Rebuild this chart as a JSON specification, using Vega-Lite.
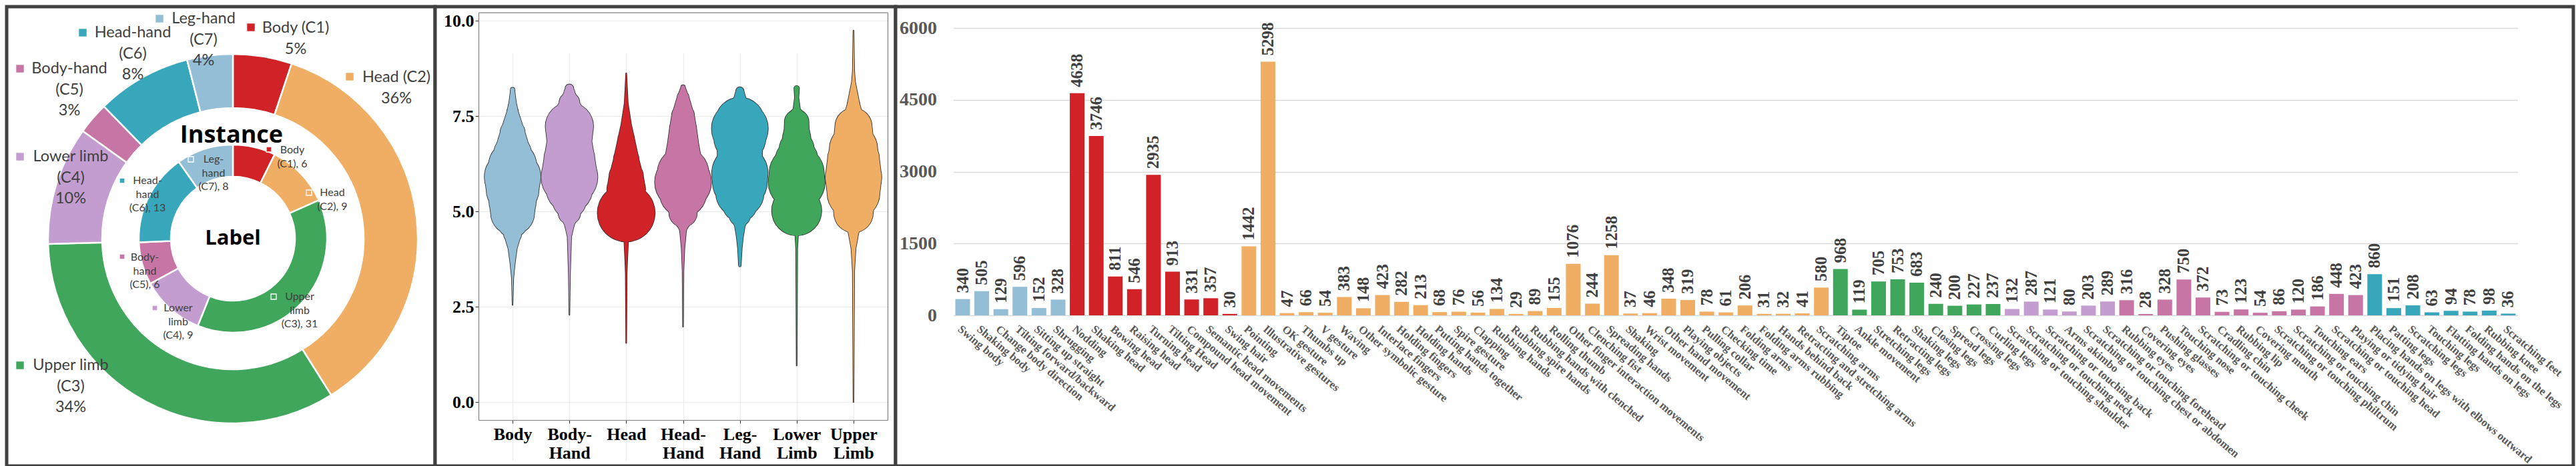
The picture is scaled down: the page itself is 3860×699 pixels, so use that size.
{
  "$schema": "https://vega.github.io/schema/vega-lite/v6.json",
  "background": "white",
  "padding": {"left": 4, "top": 4, "right": 0, "bottom": 0},
  "spacing": 0,
  "bounds": "flush",
  "config": {"view": {"stroke": "#404040", "strokeWidth": 5, "fill": "white"}},
  "resolve": {"scale": {"color": "independent"}},
  "datasets": {
    "donut": [
      {"cat": "Body", "code": "C1", "instances": 2050, "labels": 6, "outer": "Body (C1)\n5%", "inner": "Body\n(C1), 6"},
      {"cat": "Head", "code": "C2", "instances": 14307, "labels": 9, "outer": "Head (C2)\n36%", "inner": "Head\n(C2), 9"},
      {"cat": "Upper limb", "code": "C3", "instances": 13320, "labels": 31, "outer": "Upper limb\n(C3)\n34%", "inner": "Upper\nlimb\n(C3), 31"},
      {"cat": "Lower limb", "code": "C4", "instances": 4132, "labels": 9, "outer": "Lower limb\n(C4)\n10%", "inner": "Lower\nlimb\n(C4), 9"},
      {"cat": "Body-hand", "code": "C5", "instances": 1112, "labels": 6, "outer": "Body-hand\n(C5)\n3%", "inner": "Body-\nhand\n(C5), 6"},
      {"cat": "Head-hand", "code": "C6", "instances": 3307, "labels": 13, "outer": "Head-hand\n(C6)\n8%", "inner": "Head-\nhand\n(C6), 13"},
      {"cat": "Leg-hand", "code": "C7", "instances": 1588, "labels": 8, "outer": "Leg-hand\n(C7)\n4%", "inner": "Leg-\nhand\n(C7), 8"}
    ],
    "violin": [
      {"cat": "Body", "v": 2.55, "w": 0.2}, {"cat": "Body", "v": 3.23, "w": 1.1}, {"cat": "Body", "v": 3.63, "w": 3.4}, {"cat": "Body", "v": 4.02, "w": 6.4}, {"cat": "Body", "v": 4.41, "w": 13.1}, {"cat": "Body", "v": 4.72, "w": 22.7}, {"cat": "Body", "v": 4.96, "w": 32.6}, {"cat": "Body", "v": 5.27, "w": 35.1}, {"cat": "Body", "v": 5.58, "w": 39.3}, {"cat": "Body", "v": 5.9, "w": 42.0}, {"cat": "Body", "v": 6.21, "w": 35.8}, {"cat": "Body", "v": 6.52, "w": 28.0}, {"cat": "Body", "v": 7.07, "w": 18.4}, {"cat": "Body", "v": 7.62, "w": 8.3}, {"cat": "Body", "v": 7.85, "w": 5.3}, {"cat": "Body", "v": 8.1, "w": 3.4}, {"cat": "Body", "v": 8.2, "w": 2.8},
      {"cat": "Body-Hand", "v": 2.29, "w": 0.2}, {"cat": "Body-Hand", "v": 3.39, "w": 1.1}, {"cat": "Body-Hand", "v": 4.33, "w": 2.8}, {"cat": "Body-Hand", "v": 4.64, "w": 6.9}, {"cat": "Body-Hand", "v": 4.96, "w": 16.5}, {"cat": "Body-Hand", "v": 5.27, "w": 24.8}, {"cat": "Body-Hand", "v": 5.58, "w": 34.4}, {"cat": "Body-Hand", "v": 5.9, "w": 42.2}, {"cat": "Body-Hand", "v": 6.37, "w": 37.9}, {"cat": "Body-Hand", "v": 6.84, "w": 33.3}, {"cat": "Body-Hand", "v": 7.23, "w": 35.8}, {"cat": "Body-Hand", "v": 7.85, "w": 15.2}, {"cat": "Body-Hand", "v": 8.12, "w": 8.0}, {"cat": "Body-Hand", "v": 8.23, "w": 6.0},
      {"cat": "Head", "v": 1.55, "w": 0.2}, {"cat": "Head", "v": 3.39, "w": 0.9}, {"cat": "Head", "v": 3.78, "w": 1.8}, {"cat": "Head", "v": 4.49, "w": 3.7}, {"cat": "Head", "v": 4.72, "w": 9.2}, {"cat": "Head", "v": 4.84, "w": 25.0}, {"cat": "Head", "v": 4.96, "w": 43.0}, {"cat": "Head", "v": 5.08, "w": 38.0}, {"cat": "Head", "v": 5.2, "w": 30.0}, {"cat": "Head", "v": 5.35, "w": 27.5}, {"cat": "Head", "v": 5.58, "w": 28.7}, {"cat": "Head", "v": 5.9, "w": 25.7}, {"cat": "Head", "v": 6.37, "w": 18.8}, {"cat": "Head", "v": 6.91, "w": 12.2}, {"cat": "Head", "v": 7.3, "w": 7.3}, {"cat": "Head", "v": 7.85, "w": 2.5}, {"cat": "Head", "v": 8.62, "w": 0.3},
      {"cat": "Head-Hand", "v": 1.98, "w": 0.2}, {"cat": "Head-Hand", "v": 3.44, "w": 0.8}, {"cat": "Head-Hand", "v": 4.03, "w": 2.2}, {"cat": "Head-Hand", "v": 4.49, "w": 4.7}, {"cat": "Head-Hand", "v": 4.73, "w": 10.8}, {"cat": "Head-Hand", "v": 4.96, "w": 20.8}, {"cat": "Head-Hand", "v": 5.19, "w": 24.2}, {"cat": "Head-Hand", "v": 5.48, "w": 35.0}, {"cat": "Head-Hand", "v": 5.77, "w": 42.2}, {"cat": "Head-Hand", "v": 6.01, "w": 38.3}, {"cat": "Head-Hand", "v": 6.36, "w": 27.5}, {"cat": "Head-Hand", "v": 6.82, "w": 22.7}, {"cat": "Head-Hand", "v": 7.17, "w": 20.0}, {"cat": "Head-Hand", "v": 7.52, "w": 16.7}, {"cat": "Head-Hand", "v": 7.99, "w": 8.8}, {"cat": "Head-Hand", "v": 8.26, "w": 3.0},
      {"cat": "Leg-Hand", "v": 3.58, "w": 1.5}, {"cat": "Leg-Hand", "v": 4.03, "w": 3.0}, {"cat": "Leg-Hand", "v": 4.32, "w": 4.8}, {"cat": "Leg-Hand", "v": 4.61, "w": 7.5}, {"cat": "Leg-Hand", "v": 4.9, "w": 15.8}, {"cat": "Leg-Hand", "v": 5.19, "w": 25.8}, {"cat": "Leg-Hand", "v": 5.48, "w": 35.8}, {"cat": "Leg-Hand", "v": 5.77, "w": 40.8}, {"cat": "Leg-Hand", "v": 6.01, "w": 41.8}, {"cat": "Leg-Hand", "v": 6.36, "w": 33.3}, {"cat": "Leg-Hand", "v": 6.71, "w": 33.7}, {"cat": "Leg-Hand", "v": 6.94, "w": 38.8}, {"cat": "Leg-Hand", "v": 7.17, "w": 42.2}, {"cat": "Leg-Hand", "v": 7.35, "w": 36.7}, {"cat": "Leg-Hand", "v": 7.58, "w": 20.0}, {"cat": "Leg-Hand", "v": 7.81, "w": 12.0}, {"cat": "Leg-Hand", "v": 8.05, "w": 7.5}, {"cat": "Leg-Hand", "v": 8.16, "w": 5.8},
      {"cat": "Lower Limb", "v": 0.96, "w": 0.2}, {"cat": "Lower Limb", "v": 4.03, "w": 1.0}, {"cat": "Lower Limb", "v": 4.49, "w": 2.5}, {"cat": "Lower Limb", "v": 4.73, "w": 10.8}, {"cat": "Lower Limb", "v": 4.9, "w": 27.5}, {"cat": "Lower Limb", "v": 5.02, "w": 37.2}, {"cat": "Lower Limb", "v": 5.19, "w": 32.5}, {"cat": "Lower Limb", "v": 5.42, "w": 32.8}, {"cat": "Lower Limb", "v": 5.77, "w": 42.2}, {"cat": "Lower Limb", "v": 6.01, "w": 40.8}, {"cat": "Lower Limb", "v": 6.36, "w": 31.7}, {"cat": "Lower Limb", "v": 6.65, "w": 25.8}, {"cat": "Lower Limb", "v": 6.94, "w": 20.8}, {"cat": "Lower Limb", "v": 7.17, "w": 18.3}, {"cat": "Lower Limb", "v": 7.35, "w": 18.0}, {"cat": "Lower Limb", "v": 7.52, "w": 10.5}, {"cat": "Lower Limb", "v": 7.7, "w": 5.0}, {"cat": "Lower Limb", "v": 7.99, "w": 2.8}, {"cat": "Lower Limb", "v": 8.23, "w": 3.7},
      {"cat": "Upper Limb", "v": 0.0, "w": 0.2}, {"cat": "Upper Limb", "v": 3.44, "w": 1.2}, {"cat": "Upper Limb", "v": 4.03, "w": 3.3}, {"cat": "Upper Limb", "v": 4.43, "w": 7.5}, {"cat": "Upper Limb", "v": 4.73, "w": 15.8}, {"cat": "Upper Limb", "v": 4.96, "w": 29.2}, {"cat": "Upper Limb", "v": 5.19, "w": 30.8}, {"cat": "Upper Limb", "v": 5.48, "w": 39.2}, {"cat": "Upper Limb", "v": 5.89, "w": 42.0}, {"cat": "Upper Limb", "v": 6.36, "w": 38.7}, {"cat": "Upper Limb", "v": 6.65, "w": 35.8}, {"cat": "Upper Limb", "v": 6.94, "w": 29.2}, {"cat": "Upper Limb", "v": 7.23, "w": 27.5}, {"cat": "Upper Limb", "v": 7.52, "w": 14.2}, {"cat": "Upper Limb", "v": 7.81, "w": 9.2}, {"cat": "Upper Limb", "v": 8.11, "w": 5.8}, {"cat": "Upper Limb", "v": 8.4, "w": 2.5}, {"cat": "Upper Limb", "v": 8.69, "w": 1.2}, {"cat": "Upper Limb", "v": 9.74, "w": 0.3}
    ],
    "bars": [
      {"name": "Swing body", "group": "Body", "n": 340},
      {"name": "Shaking body", "group": "Body", "n": 505},
      {"name": "Change body direction", "group": "Body", "n": 129},
      {"name": "Tilting forward/backward", "group": "Body", "n": 596},
      {"name": "Sitting up straight", "group": "Body", "n": 152},
      {"name": "Shrugging", "group": "Body", "n": 328},
      {"name": "Nodding", "group": "Head", "n": 4638},
      {"name": "Shaking head", "group": "Head", "n": 3746},
      {"name": "Bowing head", "group": "Head", "n": 811},
      {"name": "Raising head", "group": "Head", "n": 546},
      {"name": "Turning head", "group": "Head", "n": 2935},
      {"name": "Tilting Head", "group": "Head", "n": 913},
      {"name": "Compound head movement", "group": "Head", "n": 331},
      {"name": "Semantic head movements", "group": "Head", "n": 357},
      {"name": "Swing hair", "group": "Head", "n": 30},
      {"name": "Pointing", "group": "Upper limb", "n": 1442},
      {"name": "Illustrative gestures", "group": "Upper limb", "n": 5298},
      {"name": "OK gesture", "group": "Upper limb", "n": 47},
      {"name": "Thumbs up", "group": "Upper limb", "n": 66},
      {"name": "V gesture", "group": "Upper limb", "n": 54},
      {"name": "Waving", "group": "Upper limb", "n": 383},
      {"name": "Other symbolic gesture", "group": "Upper limb", "n": 148},
      {"name": "Interlace fingers", "group": "Upper limb", "n": 423},
      {"name": "Holding fingers", "group": "Upper limb", "n": 282},
      {"name": "Holding hands", "group": "Upper limb", "n": 213},
      {"name": "Putting hands together", "group": "Upper limb", "n": 68},
      {"name": "Spire gesture", "group": "Upper limb", "n": 76},
      {"name": "Clapping", "group": "Upper limb", "n": 56},
      {"name": "Rubbing hands", "group": "Upper limb", "n": 134},
      {"name": "Rubbing spire hands", "group": "Upper limb", "n": 29},
      {"name": "Rubbing hands with clenched", "group": "Upper limb", "n": 89},
      {"name": "Rolling thumb", "group": "Upper limb", "n": 155},
      {"name": "Other finger interaction movements", "group": "Upper limb", "n": 1076},
      {"name": "Clenching fist", "group": "Upper limb", "n": 244},
      {"name": "Spreading hands", "group": "Upper limb", "n": 1258},
      {"name": "Shaking", "group": "Upper limb", "n": 37},
      {"name": "Wrist movement", "group": "Upper limb", "n": 46},
      {"name": "Other hand movement", "group": "Upper limb", "n": 348},
      {"name": "Playing objects", "group": "Upper limb", "n": 319},
      {"name": "Pulling collar", "group": "Upper limb", "n": 78},
      {"name": "Checking time", "group": "Upper limb", "n": 61},
      {"name": "Folding arms", "group": "Upper limb", "n": 206},
      {"name": "Folding arms rubbing", "group": "Upper limb", "n": 31},
      {"name": "Hands behind back", "group": "Upper limb", "n": 32},
      {"name": "Retracting and stretching arms", "group": "Upper limb", "n": 41},
      {"name": "Scratching arms", "group": "Upper limb", "n": 580},
      {"name": "Tiptoe", "group": "Lower limb", "n": 968},
      {"name": "Ankle movement", "group": "Lower limb", "n": 119},
      {"name": "Stretching legs", "group": "Lower limb", "n": 705},
      {"name": "Retracting legs", "group": "Lower limb", "n": 753},
      {"name": "Shaking legs", "group": "Lower limb", "n": 683},
      {"name": "Closing legs", "group": "Lower limb", "n": 240},
      {"name": "Spread legs", "group": "Lower limb", "n": 200},
      {"name": "Crossing legs", "group": "Lower limb", "n": 227},
      {"name": "Curling legs", "group": "Lower limb", "n": 237},
      {"name": "Scratching or touching shoulder", "group": "Body-hand", "n": 132},
      {"name": "Scratching or touching neck", "group": "Body-hand", "n": 287},
      {"name": "Scratching or touching back", "group": "Body-hand", "n": 121},
      {"name": "Arms akimbo", "group": "Body-hand", "n": 80},
      {"name": "Scratching or touching chest or abdomen", "group": "Body-hand", "n": 203},
      {"name": "Scratching or touching forehead", "group": "Body-hand", "n": 289},
      {"name": "Rubbing eyes", "group": "Head-hand", "n": 316},
      {"name": "Covering eyes", "group": "Head-hand", "n": 28},
      {"name": "Pushing glasses", "group": "Head-hand", "n": 328},
      {"name": "Touching nose", "group": "Head-hand", "n": 750},
      {"name": "Scratching or touching cheek", "group": "Head-hand", "n": 372},
      {"name": "Cradling chin", "group": "Head-hand", "n": 73},
      {"name": "Rubbing lip", "group": "Head-hand", "n": 123},
      {"name": "Covering mouth", "group": "Head-hand", "n": 54},
      {"name": "Scratching or touching philtrum", "group": "Head-hand", "n": 86},
      {"name": "Scratching or touching chin", "group": "Head-hand", "n": 120},
      {"name": "Touching ears", "group": "Head-hand", "n": 186},
      {"name": "Scratching or touching head", "group": "Head-hand", "n": 448},
      {"name": "Playing or tidying hair", "group": "Head-hand", "n": 423},
      {"name": "Placing hands on legs with elbows outward", "group": "Leg-hand", "n": 860},
      {"name": "Patting legs", "group": "Leg-hand", "n": 151},
      {"name": "Scratching legs", "group": "Leg-hand", "n": 208},
      {"name": "Touching legs", "group": "Leg-hand", "n": 63},
      {"name": "Flatting hands on legs", "group": "Leg-hand", "n": 94},
      {"name": "Folding hands on the legs", "group": "Leg-hand", "n": 78},
      {"name": "Rubbing knee", "group": "Leg-hand", "n": 98},
      {"name": "Scratching feet", "group": "Leg-hand", "n": 36}
    ]
  },
  "hconcat": [
    {
      "width": 642,
      "height": 689,
      "view": {"stroke": "#404040", "strokeWidth": 5, "fill": "white"},
      "data": {"name": "donut"},
      "layer": [
        {"mark": {"type": "point", "opacity": 0},
         "encoding": {"x": {"datum": 0, "type": "quantitative", "axis": null}, "y": {"datum": 0, "type": "quantitative", "axis": null}}},
        {"mark": {"type": "arc", "x": 339, "y": 348, "radius": 277, "radius2": 196, "stroke": "white", "strokeWidth": 2.5},
         "encoding": {
           "theta": {"field": "instances", "type": "quantitative", "stack": true},
           "order": {"field": "code", "type": "ordinal"},
           "color": {"field": "cat", "type": "nominal", "scale": {"domain": ["Body", "Head", "Upper limb", "Lower limb", "Body-hand", "Head-hand", "Leg-hand"], "range": ["#D02227", "#EFAE63", "#3FA65C", "#C39DD0", "#C675A5", "#38A6BB", "#93BED5"]}, "legend": null}
         }},
        {"mark": {"type": "arc", "x": 339, "y": 348, "radius": 141, "radius2": 93, "stroke": "white", "strokeWidth": 2.5},
         "encoding": {
           "theta": {"field": "labels", "type": "quantitative", "stack": true},
           "order": {"field": "code", "type": "ordinal"},
           "color": {"field": "cat", "type": "nominal", "legend": null}
         }},
        {"transform": [{"filter": "datum.code == 'C1'"}], "mark": {"type": "text", "x": 433, "y": 32, "align": "center", "baseline": "middle", "lineBreak": "\n", "font": "Lato", "fontSize": 23.5, "lineHeight": 31.5, "fill": "#404040"}, "encoding": {"text": {"field": "outer", "type": "nominal"}}},
        {"transform": [{"filter": "datum.code == 'C2'"}], "mark": {"type": "text", "x": 584, "y": 106, "align": "center", "baseline": "middle", "lineBreak": "\n", "font": "Lato", "fontSize": 23.5, "lineHeight": 31.5, "fill": "#404040"}, "encoding": {"text": {"field": "outer", "type": "nominal"}}},
        {"transform": [{"filter": "datum.code == 'C3'"}], "mark": {"type": "text", "x": 96, "y": 538, "align": "center", "baseline": "middle", "lineBreak": "\n", "font": "Lato", "fontSize": 23.5, "lineHeight": 31.5, "fill": "#404040"}, "encoding": {"text": {"field": "outer", "type": "nominal"}}},
        {"transform": [{"filter": "datum.code == 'C4'"}], "mark": {"type": "text", "x": 96, "y": 225, "align": "center", "baseline": "middle", "lineBreak": "\n", "font": "Lato", "fontSize": 23.5, "lineHeight": 31.5, "fill": "#404040"}, "encoding": {"text": {"field": "outer", "type": "nominal"}}},
        {"transform": [{"filter": "datum.code == 'C5'"}], "mark": {"type": "text", "x": 94, "y": 93, "align": "center", "baseline": "middle", "lineBreak": "\n", "font": "Lato", "fontSize": 23.5, "lineHeight": 31.5, "fill": "#404040"}, "encoding": {"text": {"field": "outer", "type": "nominal"}}},
        {"transform": [{"filter": "datum.code == 'C6'"}], "mark": {"type": "text", "x": 189, "y": 39, "align": "center", "baseline": "middle", "lineBreak": "\n", "font": "Lato", "fontSize": 23.5, "lineHeight": 31.5, "fill": "#404040"}, "encoding": {"text": {"field": "outer", "type": "nominal"}}},
        {"transform": [{"filter": "datum.code == 'C7'"}], "mark": {"type": "text", "x": 295, "y": 18, "align": "center", "baseline": "middle", "lineBreak": "\n", "font": "Lato", "fontSize": 23.5, "lineHeight": 31.5, "fill": "#404040"}, "encoding": {"text": {"field": "outer", "type": "nominal"}}},
        {"transform": [{"filter": "datum.code == 'C1'"}], "mark": {"type": "square", "x": 366, "y": 31, "size": 130, "filled": true, "opacity": 1}, "encoding": {"color": {"field": "cat", "type": "nominal", "legend": null}}},
        {"transform": [{"filter": "datum.code == 'C2'"}], "mark": {"type": "square", "x": 514, "y": 105, "size": 130, "filled": true, "opacity": 1}, "encoding": {"color": {"field": "cat", "type": "nominal", "legend": null}}},
        {"transform": [{"filter": "datum.code == 'C3'"}], "mark": {"type": "square", "x": 20, "y": 538, "size": 130, "filled": true, "opacity": 1}, "encoding": {"color": {"field": "cat", "type": "nominal", "legend": null}}},
        {"transform": [{"filter": "datum.code == 'C4'"}], "mark": {"type": "square", "x": 20, "y": 225, "size": 130, "filled": true, "opacity": 1}, "encoding": {"color": {"field": "cat", "type": "nominal", "legend": null}}},
        {"transform": [{"filter": "datum.code == 'C5'"}], "mark": {"type": "square", "x": 20, "y": 93, "size": 130, "filled": true, "opacity": 1}, "encoding": {"color": {"field": "cat", "type": "nominal", "legend": null}}},
        {"transform": [{"filter": "datum.code == 'C6'"}], "mark": {"type": "square", "x": 114, "y": 39, "size": 130, "filled": true, "opacity": 1}, "encoding": {"color": {"field": "cat", "type": "nominal", "legend": null}}},
        {"transform": [{"filter": "datum.code == 'C7'"}], "mark": {"type": "square", "x": 229, "y": 18, "size": 130, "filled": true, "opacity": 1}, "encoding": {"color": {"field": "cat", "type": "nominal", "legend": null}}},
        {"transform": [{"filter": "datum.code == 'C1'"}], "mark": {"type": "text", "x": 428, "y": 215, "align": "center", "baseline": "middle", "lineBreak": "\n", "font": "Lato", "fontSize": 16, "lineHeight": 20.5, "fill": "#404040"}, "encoding": {"text": {"field": "inner", "type": "nominal"}}},
        {"transform": [{"filter": "datum.code == 'C2'"}], "mark": {"type": "text", "x": 488, "y": 279, "align": "center", "baseline": "middle", "lineBreak": "\n", "font": "Lato", "fontSize": 16, "lineHeight": 20.5, "fill": "#404040"}, "encoding": {"text": {"field": "inner", "type": "nominal"}}},
        {"transform": [{"filter": "datum.code == 'C3'"}], "mark": {"type": "text", "x": 439, "y": 435, "align": "center", "baseline": "middle", "lineBreak": "\n", "font": "Lato", "fontSize": 16, "lineHeight": 20.5, "fill": "#404040"}, "encoding": {"text": {"field": "inner", "type": "nominal"}}},
        {"transform": [{"filter": "datum.code == 'C4'"}], "mark": {"type": "text", "x": 257, "y": 452, "align": "center", "baseline": "middle", "lineBreak": "\n", "font": "Lato", "fontSize": 16, "lineHeight": 20.5, "fill": "#404040"}, "encoding": {"text": {"field": "inner", "type": "nominal"}}},
        {"transform": [{"filter": "datum.code == 'C5'"}], "mark": {"type": "text", "x": 207, "y": 376, "align": "center", "baseline": "middle", "lineBreak": "\n", "font": "Lato", "fontSize": 16, "lineHeight": 20.5, "fill": "#404040"}, "encoding": {"text": {"field": "inner", "type": "nominal"}}},
        {"transform": [{"filter": "datum.code == 'C6'"}], "mark": {"type": "text", "x": 211, "y": 261, "align": "center", "baseline": "middle", "lineBreak": "\n", "font": "Lato", "fontSize": 16, "lineHeight": 20.5, "fill": "#404040"}, "encoding": {"text": {"field": "inner", "type": "nominal"}}},
        {"transform": [{"filter": "datum.code == 'C7'"}], "mark": {"type": "text", "x": 310, "y": 229, "align": "center", "baseline": "middle", "lineBreak": "\n", "font": "Lato", "fontSize": 16, "lineHeight": 20.5, "fill": "#404040"}, "encoding": {"text": {"field": "inner", "type": "nominal"}}},
        {"transform": [{"filter": "datum.code == 'C1'"}], "mark": {"type": "square", "x": 393, "y": 214, "size": 64, "filled": true, "opacity": 1, "stroke": "white", "strokeWidth": 1.3}, "encoding": {"color": {"field": "cat", "type": "nominal", "legend": null}}},
        {"transform": [{"filter": "datum.code == 'C2'"}], "mark": {"type": "square", "x": 453, "y": 279, "size": 64, "filled": true, "opacity": 1, "stroke": "white", "strokeWidth": 1.3}, "encoding": {"color": {"field": "cat", "type": "nominal", "legend": null}}},
        {"transform": [{"filter": "datum.code == 'C3'"}], "mark": {"type": "square", "x": 400, "y": 435, "size": 64, "filled": true, "opacity": 1, "stroke": "white", "strokeWidth": 1.3}, "encoding": {"color": {"field": "cat", "type": "nominal", "legend": null}}},
        {"transform": [{"filter": "datum.code == 'C4'"}], "mark": {"type": "square", "x": 222, "y": 452, "size": 64, "filled": true, "opacity": 1, "stroke": "white", "strokeWidth": 1.3}, "encoding": {"color": {"field": "cat", "type": "nominal", "legend": null}}},
        {"transform": [{"filter": "datum.code == 'C5'"}], "mark": {"type": "square", "x": 173, "y": 375, "size": 64, "filled": true, "opacity": 1, "stroke": "white", "strokeWidth": 1.3}, "encoding": {"color": {"field": "cat", "type": "nominal", "legend": null}}},
        {"transform": [{"filter": "datum.code == 'C6'"}], "mark": {"type": "square", "x": 173, "y": 261, "size": 64, "filled": true, "opacity": 1, "stroke": "white", "strokeWidth": 1.3}, "encoding": {"color": {"field": "cat", "type": "nominal", "legend": null}}},
        {"transform": [{"filter": "datum.code == 'C7'"}], "mark": {"type": "square", "x": 276, "y": 229, "size": 64, "filled": true, "opacity": 1, "stroke": "white", "strokeWidth": 1.3}, "encoding": {"color": {"field": "cat", "type": "nominal", "legend": null}}},
        {"transform": [{"filter": "datum.code == 'C1'"}], "mark": {"type": "text", "x": 337, "y": 193, "align": "center", "baseline": "middle", "font": "Open Sans", "fontWeight": "bold", "fontSize": 36, "fill": "#000000"}, "encoding": {"text": {"value": "Instance"}}},
        {"transform": [{"filter": "datum.code == 'C1'"}], "mark": {"type": "text", "x": 339, "y": 348, "align": "center", "baseline": "middle", "font": "Open Sans", "fontWeight": "bold", "fontSize": 31, "fill": "#000000"}, "encoding": {"text": {"value": "Label"}}}
      ],
      "resolve": {"scale": {"theta": "independent"}}
    },
    {
      "width": 690,
      "height": 689,
      "data": {"name": "violin"},
      "layer": [
        {
          "mark": {"type": "trail", "color": "#333333", "opacity": 1, "clip": true},
          "encoding": {
            "y": {"field": "v", "type": "quantitative",
                  "scale": {"domain": [-0.47, 10.22], "range": [620, 8.7], "nice": false, "zero": false},
                  "axis": {"orient": "left", "offset": -65, "title": null, "values": [0, 2.5, 5, 7.5, 10], "format": ".1f",
                           "labelFont": "Liberation Serif", "labelFontWeight": "bold", "labelFontSize": 26, "labelColor": "#000000", "labelPadding": 2,
                           "tickSize": 5, "tickColor": "#333333", "tickWidth": 1, "domainColor": "#7f7f7f", "domainWidth": 1.2,
                           "grid": true, "gridColor": "#ebebeb", "gridWidth": 1}},
            "x": {"field": "cat", "type": "nominal", "sort": ["Body", "Body-Hand", "Head", "Head-Hand", "Leg-Hand", "Lower Limb", "Upper Limb"],
                  "scale": {"type": "point", "padding": 0.6, "range": [65, 678]},
                  "axis": {"orient": "bottom", "offset": -69, "title": null, "labelAngle": 0, "labelBaseline": "top",
                           "labelExpr": "indexof(datum.label, '-') > 0 ? [slice(datum.label, 0, indexof(datum.label, '-') + 1), slice(datum.label, indexof(datum.label, '-') + 1)] : split(datum.label, ' ')",
                           "labelFont": "Liberation Serif", "labelFontWeight": "bold", "labelFontSize": 26, "labelColor": "#000000", "labelPadding": 3, "labelLineHeight": 28,
                           "tickSize": 5, "tickColor": "#333333", "domainColor": "#7f7f7f", "domainWidth": 1.2,
                           "grid": true, "gridColor": "#ebebeb", "gridWidth": 1}},
            "size": {"field": "w", "type": "quantitative", "scale": {"domain": [0, 43], "range": [1.8, 87.8], "zero": false}, "legend": null},
            "detail": {"field": "cat", "type": "nominal"},
            "order": {"field": "v", "type": "quantitative"}
          }
        },
        {
          "mark": {"type": "trail", "opacity": 1, "clip": true},
          "encoding": {
            "y": {"field": "v", "type": "quantitative", "axis": {"orient": "right", "offset": -12, "title": null, "labels": false, "ticks": false, "grid": false, "domainColor": "#7f7f7f", "domainWidth": 1.2}},
            "x": {"field": "cat", "type": "nominal", "sort": ["Body", "Body-Hand", "Head", "Head-Hand", "Leg-Hand", "Lower Limb", "Upper Limb"], "axis": {"orient": "top", "offset": -8.7, "title": null, "labels": false, "ticks": false, "grid": false, "domainColor": "#7f7f7f", "domainWidth": 1.2}},
            "size": {"field": "w", "type": "quantitative", "scale": {"domain": [0, 43], "range": [0, 86], "zero": false}, "legend": null},
            "color": {"field": "cat", "type": "nominal",
                      "scale": {"domain": ["Body", "Body-Hand", "Head", "Head-Hand", "Leg-Hand", "Lower Limb", "Upper Limb"],
                                "range": ["#93BED5", "#C39DD0", "#D02227", "#C675A5", "#38A6BB", "#3FA65C", "#EFAE63"]},
                      "legend": null},
            "order": {"field": "v", "type": "quantitative"}
          }
        }
      ],
      "resolve": {"scale": {"size": "independent"}, "axis": {"x": "independent", "y": "independent"}}
    },
    {
      "width": 2514,
      "height": 689,
      "data": {"name": "bars"},
      "encoding": {
        "x": {"field": "name", "type": "nominal", "sort": null,
              "scale": {"range": [86.5, 2430.5], "paddingInner": 0.23, "paddingOuter": 0.105},
              "axis": {"orient": "bottom", "offset": -226, "title": null, "labelAngle": 40, "labelAlign": "left", "labelBaseline": "top",
                       "labelFont": "Liberation Serif", "labelFontWeight": "bold", "labelFontSize": 17, "labelColor": "#595959",
                       "labelPadding": 12, "labelOverlap": false, "labelLimit": 0, "ticks": false, "domain": false, "grid": false}},
        "y": {"field": "n", "type": "quantitative",
              "scale": {"domain": [0, 6000], "range": [463, 32], "nice": false},
              "axis": {"orient": "left", "offset": -86.5, "title": null, "values": [0, 1500, 3000, 4500, 6000], "format": "d",
                       "labelFont": "Liberation Serif", "labelFontWeight": "bold", "labelFontSize": 28, "labelColor": "#595959",
                       "labelPadding": 25, "ticks": false, "domain": false, "grid": true, "gridColor": "#d9d9d9", "gridWidth": 1.5}}
      },
      "layer": [
        {"mark": {"type": "bar"},
         "encoding": {"color": {"field": "group", "type": "nominal",
                                "scale": {"domain": ["Body", "Head", "Upper limb", "Lower limb", "Body-hand", "Head-hand", "Leg-hand"],
                                          "range": ["#93BED5", "#D02227", "#EFAE63", "#3FA65C", "#C39DD0", "#C675A5", "#38A6BB"]},
                                "legend": null}}},
        {"mark": {"type": "text", "angle": 270, "align": "left", "baseline": "middle", "dx": 9,
                  "font": "Liberation Serif", "fontWeight": "bold", "fontSize": 25, "fill": "#404040"},
         "encoding": {"text": {"field": "n", "type": "quantitative", "format": "d"}}}
      ]
    }
  ]
}
